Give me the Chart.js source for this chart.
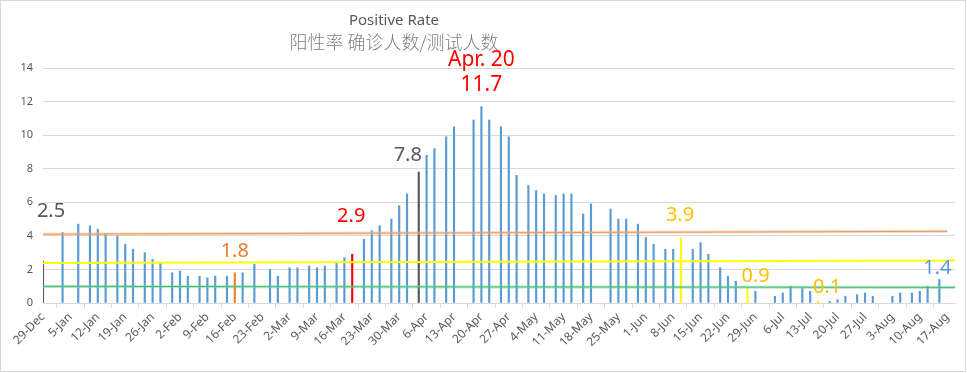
<!DOCTYPE html>
<html>
<head>
<meta charset="utf-8">
<script src="https://cdn.jsdelivr.net/npm/chart.js@4/dist/chart.umd.min.js"></script>
<style>
	body { margin: 0; background: #fff; }
	canvas { display: block; }
</style>
</head>
<body>
<canvas id="rate_chart" width="967" height="373"></canvas>
<script>
// weekly tick labels, one every 7 days starting 29-Dec
const tickLabels = ["29-Dec", "5-Jan", "12-Jan", "19-Jan", "26-Jan", "2-Feb", "9-Feb", "16-Feb", "23-Feb",
	"2-Mar", "9-Mar", "16-Mar", "23-Mar", "30-Mar", "6-Apr", "13-Apr", "20-Apr", "27-Apr", "4-May",
	"11-May", "18-May", "25-May", "1-Jun", "8-Jun", "15-Jun", "22-Jun", "29-Jun", "6-Jul", "13-Jul",
	"20-Jul", "27-Jul", "3-Aug", "10-Aug", "17-Aug"];
const dayCount = 234;

// days (offset from 29-Dec) that have a reported rate, and the rate in %
const rateDays = [0, 5, 9, 12, 14, 16, 19, 21, 23, 26, 28, 30, 33, 35, 37, 40, 42, 44, 47, 49, 51, 54,
	58, 60, 63, 65, 68, 70, 72, 75, 77, 79, 82, 84, 86, 89, 91, 93, 96, 98, 100, 103, 105, 110, 112,
	114, 117, 119, 121, 124, 126, 128, 131, 133, 135, 138, 140, 145, 147, 149, 152, 154, 156, 159,
	161, 163, 166, 168, 170, 173, 175, 177, 180, 182, 187, 189, 191, 194, 196, 198, 201, 203, 205,
	208, 210, 212, 217, 219, 222, 224, 226, 229];
const rateValues = [2.5, 4.2, 4.7, 4.6, 4.4, 4.1, 4.0, 3.5, 3.2, 3.0, 2.6, 2.4, 1.8, 1.9, 1.6, 1.6, 1.5,
	1.6, 1.6, 1.8, 1.8, 2.3, 2.0, 1.6, 2.1, 2.1, 2.2, 2.1, 2.2, 2.4, 2.7, 2.9, 3.8, 4.3, 4.6, 5.0, 5.8,
	6.5, 7.8, 8.8, 9.2, 9.9, 10.5, 10.9, 11.7, 10.9, 10.5, 9.9, 7.6, 7.0, 6.7, 6.5, 6.4, 6.5, 6.5, 5.3,
	5.9, 5.6, 5.0, 5.0, 4.7, 3.9, 3.5, 3.2, 3.2, 3.9, 3.2, 3.6, 2.9, 2.1, 1.6, 1.3, 0.9, 0.7, 0.4, 0.6,
	1.0, 0.9, 0.7, 0.1, 0.1, 0.2, 0.4, 0.5, 0.6, 0.4, 0.4, 0.6, 0.6, 0.7, 1.0, 1.4];

// reference lines: value at start and at end
const orangeLine = [4.1, 4.27];
const yellowLine = [2.39, 2.53];
const greenLine = [0.99, 0.93];

// called-out bars
const calloutDays = [0, 49, 79, 96, 112, 163, 180, 198, 229];
const calloutTexts = ["2.5", "1.8", "2.9", "7.8", "11.7", "3.9", "0.9", "0.1", "1.4"];

const titleText = "Positive Rate";
const subtitleText = "阳性率 确诊人数/测试人数";

// styles
const BLUE = "#5B9BD5";
const barColorOf = {0: "#595959", 49: "#ED7D31", 79: "#FF0000", 96: "#595959", 163: "#FFFF00", 180: "#FFFF00", 198: "#FFFF00"};
const calloutStyle = [
	{color: "#595959", dx: 8, dy: -50},
	{color: "#ED7D31", dx: 0, dy: -21},
	{color: "#FF0000", dx: -1, dy: -38},
	{color: "#595959", dx: -11, dy: -17},
	{color: "#FF0000", dx: 0, dy: -22, size: 21, extra: "Apr. 20", extraDy: -47},
	{color: "#FFC000", dx: -1, dy: -22},
	{color: "#FFC000", dx: 8, dy: -12},
	{color: "#FFC000", dx: 9, dy: -14},
	{color: BLUE, dx: -2, dy: -11},
];

const labels = [];
const daily = [];
const colors = [];
for (let i = 0; i < dayCount; i++) {
	labels.push(i % 7 === 0 ? tickLabels[i / 7] : "");
	daily.push(null);
	colors.push(barColorOf[i] || BLUE);
}
rateDays.forEach((d, k) => { daily[d] = rateValues[k]; });

function endLine(pair, lastIdx) {
	const arr = new Array(dayCount).fill(null);
	arr[0] = pair[0];
	arr[lastIdx] = pair[1];
	return arr;
}

const lineBase = {type: "line", pointRadius: 0, spanGaps: true, fill: false, order: 0, tension: 0};

const calloutPlugin = {
	id: "callouts",
	afterDatasetsDraw(chart) {
		const ctx = chart.ctx;
		const meta = chart.getDatasetMeta(0);
		ctx.save();
		ctx.textAlign = "center";
		ctx.textBaseline = "middle";
		calloutDays.forEach((d, k) => {
			const bar = meta.data[d];
			const st = calloutStyle[k];
			ctx.fillStyle = st.color;
			ctx.font = (st.size || 20) + "px 'Noto Sans'";
			ctx.fillText(calloutTexts[k], bar.x + st.dx, bar.y + st.dy);
			if (st.extra) {
				ctx.fillText(st.extra, bar.x + st.dx, bar.y + st.extraDy);
			}
		});
		ctx.restore();
	},
	afterDraw(chart) {
		const ctx = chart.ctx;
		ctx.save();
		ctx.textAlign = "center";
		ctx.textBaseline = "middle";
		ctx.fillStyle = "#595959";
		ctx.font = "15px 'Noto Sans'";
		ctx.fillText(titleText, 394, 21);
		ctx.fillStyle = "#7f7f7f";
		ctx.font = "300 18px 'Noto Sans CJK SC'";
		ctx.fillText(subtitleText, 394, 42);
		ctx.strokeStyle = "#d9d9d9";
		ctx.lineWidth = 1;
		ctx.strokeRect(0.5, 0.5, 965, 371);
		ctx.restore();
	}
};

new Chart(document.getElementById("rate_chart"), {
	type: "bar",
	data: {
		labels: labels,
		datasets: [
			{
				label: "Positive Rate",
				data: daily,
				backgroundColor: colors,
				barThickness: 1.5,
				order: 1,
			},
			Object.assign({data: endLine(orangeLine, 231), borderColor: "rgba(244,177,131,0.5)", borderWidth: 3}, lineBase),
			Object.assign({data: endLine(orangeLine, 231), borderColor: "#ED7D31", borderWidth: 1}, lineBase),
			Object.assign({data: endLine(yellowLine, dayCount - 1), borderColor: "#FFFF00", borderWidth: 2}, lineBase),
			Object.assign({data: endLine(greenLine, dayCount - 1), borderColor: "rgba(120,205,150,0.5)", borderWidth: 3}, lineBase),
			Object.assign({data: endLine(greenLine, dayCount - 1), borderColor: "#00B050", borderWidth: 1}, lineBase),
		],
	},
	options: {
		responsive: false,
		animation: false,
		devicePixelRatio: 1,
		layout: {padding: {top: 68, right: 12, left: 0, bottom: 0}},
		plugins: {
			legend: {display: false},
			tooltip: {enabled: false},
		},
		scales: {
			x: {
				offset: false,
				grid: {drawOnChartArea: false, color: "#d9d9d9", tickLength: 5},
				border: {color: "#d9d9d9"},
				ticks: {
					autoSkip: false,
					minRotation: 45,
					maxRotation: 45,
					padding: 2,
					color: "#595959",
					font: {family: "'Noto Sans'", size: 12},
					callback: (v, i) => (i % 7 === 0 ? tickLabels[i / 7] : null),
				},
				afterFit: s => { s.height = 70; },
			},
			y: {
				min: 0,
				max: 14,
				ticks: {stepSize: 2, padding: 10, color: "#595959", font: {family: "'Noto Sans'", size: 11}},
				grid: {color: "#d9d9d9", drawTicks: false},
				border: {display: false},
				afterFit: s => { s.width = 43; },
			},
		},
	},
	plugins: [calloutPlugin],
});
</script>
</body>
</html>
